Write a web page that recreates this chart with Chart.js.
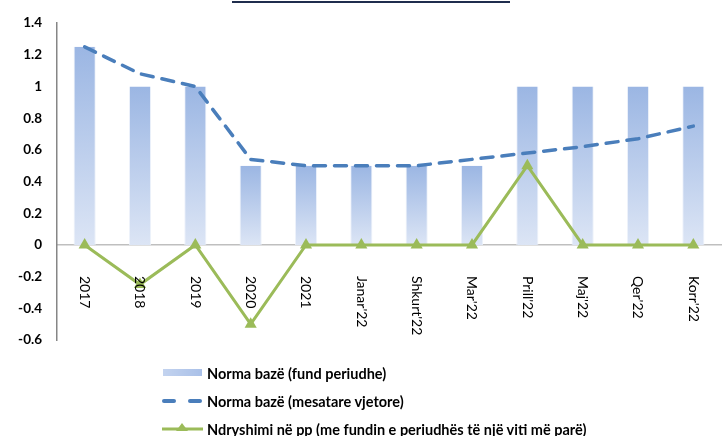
<!DOCTYPE html>
<html>
<head>
<meta charset="utf-8">
<script src="https://cdn.jsdelivr.net/npm/chart.js@4/dist/chart.umd.min.js"></script>
<style>
  html, body { margin: 0; padding: 0; background: #fff; }
  #wrap { position: relative; width: 722px; height: 436px; overflow: hidden; }
  #c { position: absolute; left: 0; top: 0; }
  #topline { position: absolute; left: 232px; top: 1px; width: 278px; height: 2px; background: #1f2d4d; }
  .leg { position: absolute; left: 162px; height: 20px; display: flex; align-items: center;
         font-family: Lato, "Liberation Sans", sans-serif; font-weight: bold; font-size: 14.5px; color: #000; white-space: nowrap; }
  .leg .sym { width: 42px; height: 20px; position: relative; margin-right: 3px; flex: none; }
</style>
</head>
<body>
<div id="wrap">
  <canvas id="c" width="728" height="436"></canvas>
  <div id="topline"></div>
  <div class="leg" style="top:363px">
    <div class="sym"><div style="position:absolute;left:1px;top:6px;width:39px;height:7px;background:linear-gradient(to right,#c3d3ef,#a9c0e8);"></div></div>
    <span>Norma bazë (fund periudhe)</span>
  </div>
  <div class="leg" style="top:391px">
    <div class="sym">
      <div style="position:absolute;left:0px;top:8px;width:14px;height:4px;border-radius:2px;background:#4a7ebb;"></div>
      <div style="position:absolute;left:26px;top:8px;width:14px;height:4px;border-radius:2px;background:#4a7ebb;"></div>
    </div>
    <span>Norma bazë (mesatare vjetore)</span>
  </div>
  <div class="leg" style="top:419px">
    <div class="sym">
      <svg width="42" height="20" style="position:absolute;left:0;top:0">
        <line x1="0" y1="10" x2="41" y2="10" stroke="#9bbb59" stroke-width="3"/>
        <polygon points="20,4 26,12 14,12" fill="#9bbb59"/>
      </svg>
    </div>
    <span>Ndryshimi në pp (me fundin e periudhës të një viti më parë)</span>
  </div>
</div>
<script>
const categories = ["2017","2018","2019","2020","2021","Janar'22","Shkurt'22","Mar'22","Prill'22","Maj'22","Qer'22","Korr'22"];
const normaFund = [1.25, 1, 1, 0.5, 0.5, 0.5, 0.5, 0.5, 1, 1, 1, 1];
const normaMesatare = [1.25, 1.08, 1.0, 0.54, 0.5, 0.5, 0.5, 0.54, 0.58, 0.62, 0.67, 0.75];
const ndryshimi = [0, -0.25, 0, -0.5, 0, 0, 0, 0, 0.5, 0, 0, 0];
const yTicks = [-0.6, -0.4, -0.2, 0, 0.2, 0.4, 0.6, 0.8, 1, 1.2, 1.4];

const xLabelPlugin = {
  id: 'xLabels',
  afterDraw(chart) {
    const ctx = chart.ctx;
    const xs = chart.scales.x;
    const y0 = chart.scales.y.getPixelForValue(0) + 31;
    ctx.save();
    ctx.font = '14px Lato, "Liberation Sans", sans-serif';
    ctx.fillStyle = '#000';
    ctx.textAlign = 'left';
    ctx.textBaseline = 'middle';
    categories.forEach((lab, i) => {
      const x = xs.getPixelForValue(i);
      ctx.save();
      ctx.translate(x, y0);
      ctx.rotate(Math.PI / 2);
      ctx.fillText(lab, 0, 0);
      ctx.restore();
    });
    ctx.restore();
  }
};

new Chart(document.getElementById('c'), {
  type: 'bar',
  data: {
    labels: categories,
    datasets: [
      {
        type: 'line',
        label: 'Ndryshimi në pp (me fundin e periudhës të një viti më parë)',
        data: ndryshimi,
        borderColor: '#9bbb59',
        backgroundColor: '#9bbb59',
        borderWidth: 3,
        pointStyle: 'triangle',
        pointRadius: 7,
        pointBorderWidth: 0,
        tension: 0,
        order: 1
      },
      {
        type: 'line',
        label: 'Norma bazë (mesatare vjetore)',
        data: normaMesatare,
        borderColor: '#4a7ebb',
        borderWidth: 3.5,
        borderDash: [12, 9],
        borderCapStyle: 'round',
        pointRadius: 0,
        tension: 0,
        order: 2
      },
      {
        type: 'bar',
        label: 'Norma bazë (fund periudhe)',
        data: normaFund,
        backgroundColor: (c) => {
          const chart = c.chart;
          if (!chart.chartArea) return '#b8cbeb';
          const ys = chart.scales.y;
          const top = ys.getPixelForValue(c.raw);
          const base = ys.getPixelForValue(0);
          const g = chart.ctx.createLinearGradient(0, top, 0, base);
          g.addColorStop(0, '#9bb6e3');
          g.addColorStop(1, '#dce5f5');
          return g;
        },
        borderColor: 'rgba(235,241,250,0.9)',
        borderWidth: { left: 1, right: 1, top: 0, bottom: 0 },
        barPercentage: 0.8,
        categoryPercentage: 0.5,
        order: 3
      }
    ]
  },
  options: {
    responsive: false,
    animation: false,
    layout: { padding: { left: 0, top: 19, right: 0, bottom: 96 } },
    plugins: { legend: { display: false }, tooltip: { enabled: false } },
    scales: {
      x: {
        position: { y: 0 },
        offset: true,
        grid: { display: false, drawTicks: false },
        border: { display: true, color: '#bfbfbf', width: 1.5 },
        ticks: { display: false }
      },
      y: {
        min: -0.6,
        max: 1.4,
        afterBuildTicks: (s) => { s.ticks = yTicks.map(v => ({ value: v })); },
        afterFit: (s) => { s.width = 57; },
        grid: { display: false, drawTicks: false },
        border: { display: true, color: '#868686', width: 1.5 },
        ticks: {
          padding: 15,
          color: '#000',
          font: { family: 'Lato, "Liberation Sans", sans-serif', weight: 'bold', size: 13.5 },
          callback: (v) => String(Number(Number(v).toFixed(1)))
        }
      }
    }
  },
  plugins: [xLabelPlugin]
});
</script>
</body>
</html>
